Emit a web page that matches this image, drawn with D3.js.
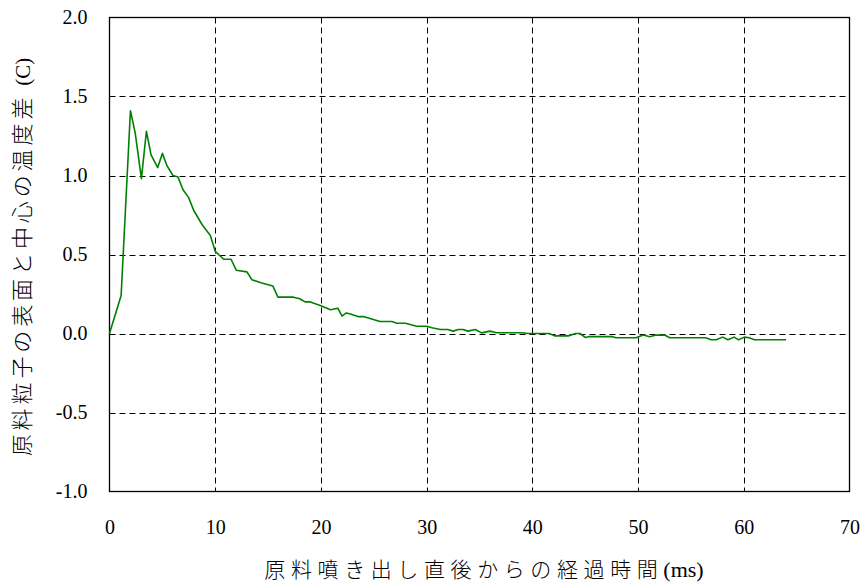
<!DOCTYPE html>
<html><head><meta charset="utf-8">
<script src="https://cdn.jsdelivr.net/npm/d3@7"></script>
<style>
body{margin:0;background:#fff;}
</style></head>
<body><svg id="c" width="864" height="588"></svg>
<script>
const timeMs = [0,1.1,1.98,2.43,3.02,3.49,3.93,4.56,5.0,5.45,6.0,6.48,6.96,7.49,7.96,8.75,9.54,10.0,10.8,11.5,12.0,13.0,13.47,14.4,15.46,15.93,17.4,18.0,18.5,19.0,20.0,20.9,21.6,22.0,22.4,22.7,23.5,24.0,25.6,26.7,27.2,28.0,29.05,30.0,30.5,31.3,32.0,32.5,33.0,33.45,33.9,34.6,35.2,36.0,36.6,39.0,39.6,41.6,42.1,43.4,44.1,44.5,45.0,45.3,47.6,47.9,49.8,50.5,51.1,51.7,52.5,53.0,56.4,56.9,57.4,58.0,58.5,59.1,59.5,60.06,60.5,61.0,64.0];
const tempDiff = [0,0.24,1.41,1.27,0.98,1.28,1.13,1.05,1.14,1.06,1.0,0.99,0.91,0.86,0.78,0.69,0.62,0.52,0.47,0.47,0.40,0.39,0.34,0.32,0.30,0.23,0.23,0.22,0.20,0.20,0.175,0.15,0.16,0.11,0.13,0.125,0.107,0.107,0.076,0.076,0.065,0.065,0.046,0.046,0.036,0.025,0.025,0.015,0.025,0.025,0.015,0.025,0.004,0.015,0.005,0.005,0,0,-0.015,-0.015,0,0,-0.025,-0.02,-0.02,-0.027,-0.027,-0.01,-0.02,-0.01,-0.01,-0.027,-0.027,-0.04,-0.04,-0.023,-0.04,-0.023,-0.04,-0.023,-0.027,-0.04,-0.04];
const xTicks = [0,10,20,30,40,50,60,70];
const yTicks = [-1.0,-0.5,0.0,0.5,1.0,1.5,2.0];
const xTitleJa = "原料噴き出し直後からの経過時間";
const xTitleUnit = "(ms)";
const yTitleJa = "原料粒子の表面と中心の温度差";
const yTitleUnit = "(C)";

const SERIF = '"Liberation Serif","Times New Roman",serif';
const CJK = '"Noto Sans CJK JP",sans-serif';
const svg = d3.select("#c");
const L=109.5, R=849.5, T=17.5, B=491.5;
const x = d3.scaleLinear().domain([0,70]).range([L,R]);
const y = d3.scaleLinear().domain([-1,2]).range([B,T]);

// grid
const g = svg.append("g");
g.selectAll(".vg").data(xTicks.slice(1,-1)).join("line")
 .attr("x1",d=>Math.round(x(d))+0.5).attr("x2",d=>Math.round(x(d))+0.5).attr("y1",T).attr("y2",B)
 .attr("stroke","#000").attr("stroke-width",1).attr("stroke-dasharray","6,4");
g.selectAll(".hg").data(yTicks.slice(1,-1)).join("line")
 .attr("y1",d=>Math.round(y(d))+0.5).attr("y2",d=>Math.round(y(d))+0.5).attr("x1",L).attr("x2",R)
 .attr("stroke","#000").attr("stroke-width",1).attr("stroke-dasharray","6,4");

// frame
svg.append("rect").attr("x",L).attr("y",T).attr("width",R-L).attr("height",B-T)
 .attr("fill","none").attr("stroke","#000").attr("stroke-width",1.3);

const fmtY = d => d3.format(".1f")(d).replace("\u2212","-");
const xa = svg.append("g").attr("transform",`translate(0,${B})`).attr("font-family",null)
 .call(d3.axisBottom(x).tickValues(xTicks).tickSize(0).tickPadding(28).tickFormat(d3.format("d")));
xa.attr("font-family",SERIF).attr("font-size",20);
xa.select(".domain").remove();
xa.selectAll("text").style("font-size","20px").style("font-family",SERIF).attr("fill","#000");
const ya = svg.append("g").attr("transform",`translate(${L},0)`)
 .call(d3.axisLeft(y).tickValues(yTicks).tickSize(0).tickPadding(22).tickFormat(fmtY));
ya.attr("font-family",SERIF).attr("font-size",20);
ya.select(".domain").remove();
ya.selectAll("text").style("font-size","20px").style("font-family",SERIF).attr("fill","#000");

// line
const line = d3.line().x((d,i)=>x(timeMs[i])).y(d=>y(d));
svg.append("path").datum(tempDiff).attr("d",line)
 .attr("fill","none").attr("stroke","#008000").attr("stroke-width",1.6).attr("stroke-linejoin","round");

// titles
const xt = svg.append("text").attr("x",484).attr("y",577).attr("text-anchor","middle");
xt.append("tspan").style("font-family",CJK).style("font-weight","300").style("font-size","21px").style("letter-spacing","5.6px").text(xTitleJa);
xt.append("tspan").style("font-family",SERIF).style("font-size","22px").text(xTitleUnit);

const yt = svg.append("text").attr("transform",`translate(30,257) rotate(-90)`).attr("text-anchor","middle");
yt.append("tspan").style("font-family",CJK).style("font-weight","300").style("font-size","22px").style("letter-spacing","3.9px").text(yTitleJa);
yt.append("tspan").attr("dx",8).style("font-family",SERIF).style("font-size","21px").text(yTitleUnit);
</script></body></html>
